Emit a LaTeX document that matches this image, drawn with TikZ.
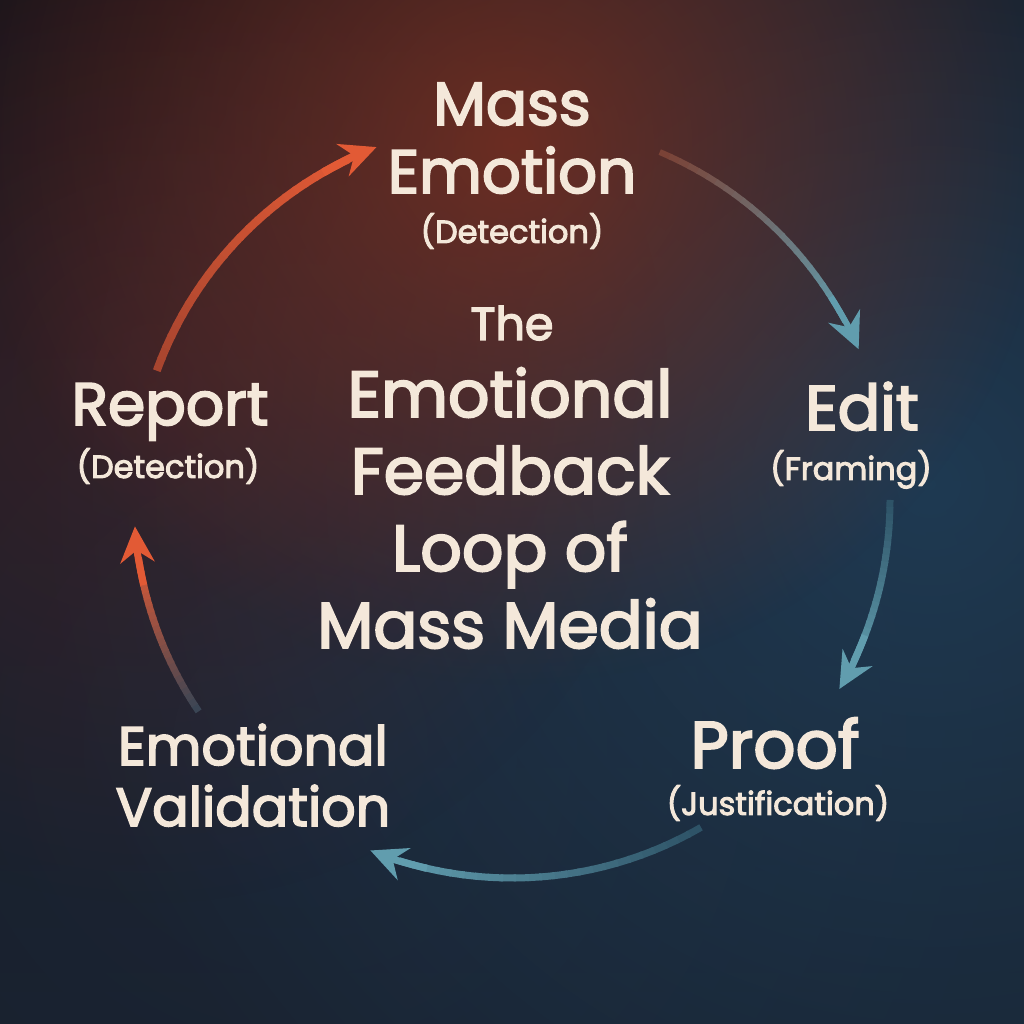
\documentclass[tikz,border=0pt]{standalone}
\usepackage{fontspec}
\setmainfont{Poppins}[FakeBold=3]
\usepackage{tikz}
\usetikzlibrary{positioning, arrows.meta, fadings}

\definecolor{bgtop}{HTML}{17151B}
\definecolor{bgbot}{HTML}{171F2B}
\definecolor{glowred}{HTML}{85301D}
\definecolor{glowredl}{HTML}{5A2424}
\definecolor{glowblue}{HTML}{21425E}
\definecolor{glownavy}{HTML}{1F2A3C}
\definecolor{cream}{HTML}{F4E8DA}
\definecolor{hot}{HTML}{E25A35}
\definecolor{hotdim}{HTML}{A8452F}
\definecolor{cool}{HTML}{619DAE}
\definecolor{cooldim}{HTML}{2E5367}
\definecolor{rust}{HTML}{7A4236}
\definecolor{slate}{HTML}{3A4554}

\tikzfading[name=softglow, inner color=transparent!0, outer color=transparent!100]

% arc round ctr, clockwise from #1 to #2, width #3, colour #4 -> #5
\newcommand{\fadearc}[5]{%
  \foreach \k in {0,...,23}{
    \pgfmathsetmacro{\aa}{#1+(#2+5-#1)*\k/24}
    \pgfmathsetmacro{\bb}{#1+(#2+5-#1)*(\k+1.2)/24}
    \pgfmathtruncatemacro{\pp}{100*\k/24}
    \draw[line width=#3, #5!\pp!#4] (ctr) ++(\aa:378) arc[start angle=\aa, end angle=\bb, radius=378];
  }
  \draw[line width=#3, #5, loopy] (ctr) ++(#2+9:378) arc[start angle=#2+9, end angle=#2, radius=378];
}

\tikzset{
  label/.style={text=cream, font=\fontsize{61}{68}\selectfont, align=center, anchor=base, inner sep=0pt},
  sublabel/.style={text=cream, font=\fontsize{32}{38}\selectfont, anchor=base, inner sep=0pt},
  loopy/.style={-{Stealth[length=36pt, width=34pt, inset=12pt]}},
  glow/.style={path fading=softglow}
}

\begin{document}
\begin{tikzpicture}[x=1pt, y=1pt]
  \useasboundingbox (0,0) rectangle (1024,1024);
  % background
  \shade[top color=bgtop, bottom color=bgbot] (0,0) rectangle (1024,1024);
  \fill[glownavy, glow, fill opacity=0.6] (300,280) circle (760);
  \fill[glowblue, glow, fill opacity=0.8] (930,540) circle (900);
  \fill[glowredl, glow, fill opacity=0.45] (150,640) circle (520);
  \fill[glowred, glow, fill opacity=0.75] (512,880) circle (540);

  \coordinate (ctr) at (512,524);

  % labels (base = last line)
  \node[label] (mass) at (512,831) {Mass\\Emotion};
  \node[sublabel] (massSub) at (512,781) {(Detection)};
  \node[label, font=\fontsize{60}{68}\selectfont] (report) at (170,599) {Report};
  \node[sublabel] (reportSub) at (168,546) {(Detection)};
  \node[label, font=\fontsize{63}{68}\selectfont] (edit) at (862,594) {Edit};
  \node[sublabel] (editSub) at (851,544) {(Framing)};
  \node[label, font=\fontsize{66}{68}\selectfont] (proof) at (775,256) {Proof};
  \node[sublabel] (proofSub) at (778,209) {(Justification)};
  \node[label, font=\fontsize{54}{61}\selectfont] (valid) at (253,198) {Emotional\\Validation};

  % title
  \node[label, font=\fontsize{46}{50}\selectfont] (the) at (512,684) {The};
  \node[label, font=\fontsize{65}{77}\selectfont] (title) at (510,376) {Emotional\\Feedback\\Loop of\\Mass Media};

  % loop
  \fadearc{160}{111}{8}{hotdim}{hot}
  \fadearc{67}{23.5}{6}{rust}{cool}
  \fadearc{0}{-30}{7}{cooldim}{cool}
  \fadearc{-60}{-112}{7}{cooldim}{cool}
  \fadearc{-146}{-176}{7}{slate}{hot}
\end{tikzpicture}
\end{document}
